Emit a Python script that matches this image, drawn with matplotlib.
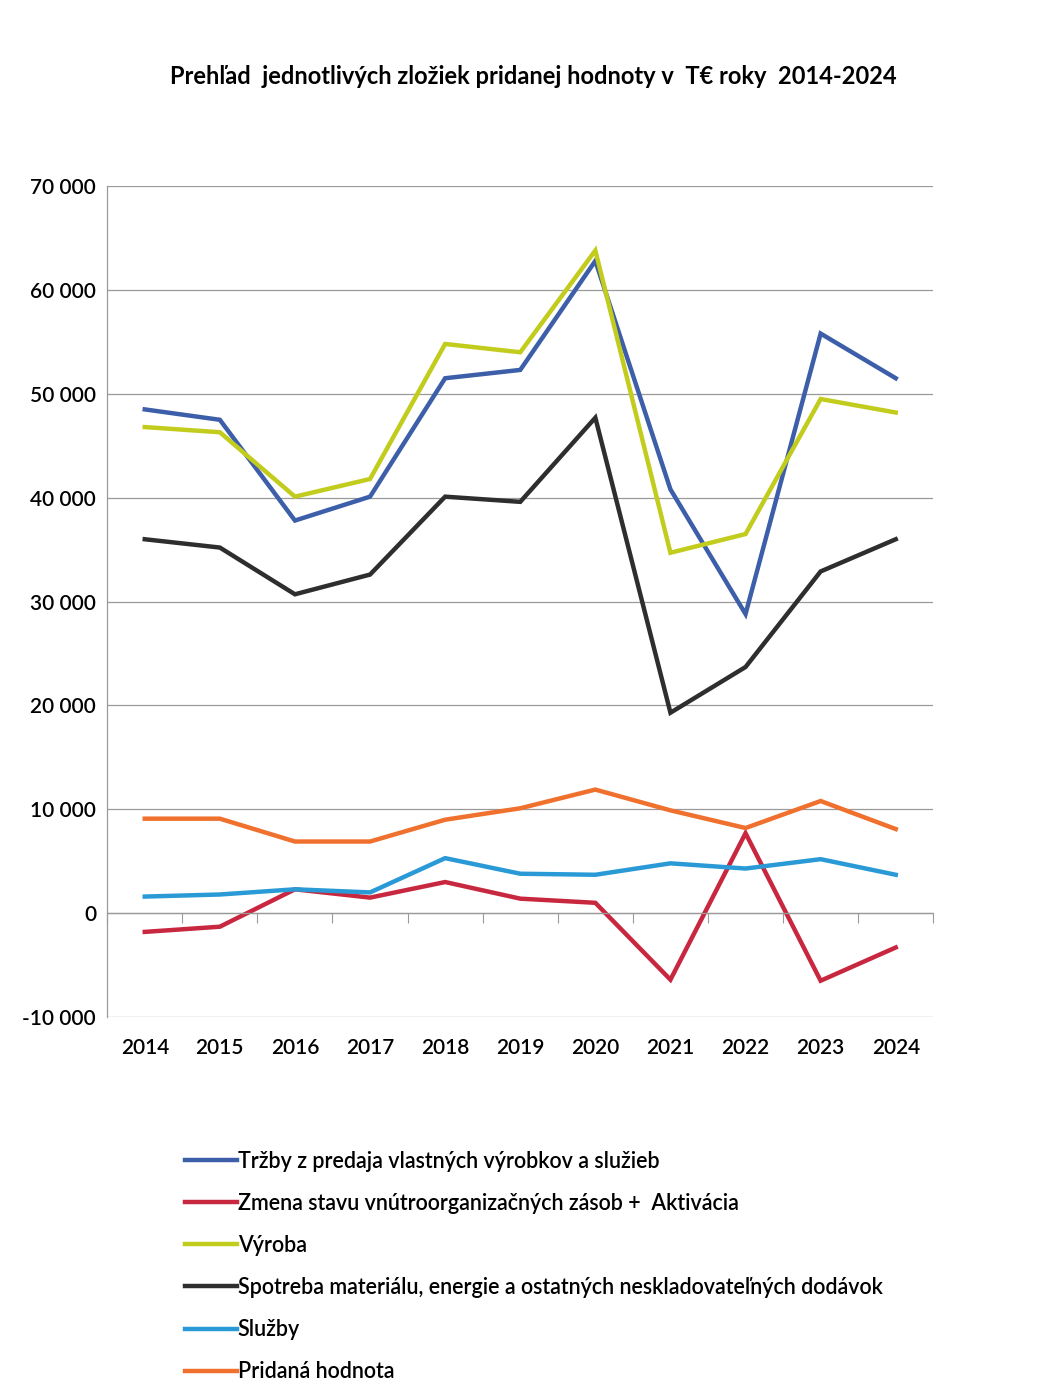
import matplotlib
matplotlib.use('Agg')
import matplotlib.pyplot as plt

years = ['2014', '2015', '2016', '2017', '2018', '2019', '2020', '2021', '2022', '2023', '2024']

trzby    = [48500, 47500, 37800, 40100, 51500, 52300, 62800, 40800, 28800, 55800, 51500]
zmena    = [-1800, -1300, 2300, 1500, 3000, 1400, 1000, -6400, 7700, -6500, -3300]
vyroba   = [46800, 46300, 40100, 41800, 54800, 54000, 63800, 34700, 36500, 49500, 48200]
spotreba = [36000, 35200, 30700, 32600, 40100, 39600, 47700, 19300, 23700, 32900, 36000]
sluzby   = [1600, 1800, 2300, 2000, 5300, 3800, 3700, 4800, 4300, 5200, 3700]
pridana  = [9100, 9100, 6900, 6900, 9000, 10100, 11900, 9900, 8200, 10800, 8100]

labels = ['Tržby z predaja vlastných výrobkov a služieb',
          'Zmena stavu vnútroorganizačných zásob +  Aktivácia',
          'Výroba',
          'Spotreba materiálu, energie a ostatných neskladovateľných dodávok',
          'Služby',
          'Pridaná hodnota']
colors = ['#3d5ea9', '#c8283f', '#c2cc1c', '#2e2e2e', '#2a9ad6', '#f0702e']

plt.rcParams['font.family'] = ['Lato', 'DejaVu Sans']

fig = plt.figure(figsize=(10.51, 13.99), dpi=100)
ax = fig.add_axes([0.102, 0.273, 0.786, 0.594])

x = list(range(len(years)))
series = [trzby, zmena, vyroba, spotreba, sluzby, pridana]
for vals, c, lab in zip(series, colors, labels):
    ax.plot(x, vals, color=c, lw=3.2, label=lab, solid_joinstyle='miter')

ax.set_xlim(-0.5, 10.5)
ax.set_ylim(-10000, 70000)
yt = list(range(-10000, 70001, 10000))
ax.set_yticks(yt)
ax.set_yticklabels(['{:,}'.format(v).replace(',', ' ') for v in yt], fontsize=15,
                   fontweight='semibold')
ax.tick_params(axis='y', length=0, pad=8)
ax.grid(axis='y', color='#9a9a9a', lw=0.9)
ax.set_axisbelow(True)

for s in ['top', 'right']:
    ax.spines[s].set_visible(False)
ax.spines['left'].set_color('#9a9a9a')
ax.spines['left'].set_linewidth(0.9)
ax.spines['bottom'].set_position(('data', 0))
ax.spines['bottom'].set_color('#9a9a9a')
ax.spines['bottom'].set_linewidth(0.9)
ax.set_xticks([i - 0.5 for i in range(len(years) + 1)])
ax.set_xticklabels([])
ax.tick_params(axis='x', length=7, color='#9a9a9a', direction='out')

sec = ax.secondary_xaxis('bottom')
sec.set_xticks(x)
sec.set_xticklabels(years, fontsize=15, fontweight='semibold')
sec.tick_params(length=0, pad=15)
sec.spines['bottom'].set_visible(False)

fig.text(0.507, 1 - 77 / 1399, 'Prehľad  jednotlivých zložiek pridanej hodnoty v  T€ roky  2014-2024',
         ha='center', va='center', fontsize=17, fontweight='bold')

fig.legend(loc='upper left', bbox_to_anchor=(0.176, 0.1775), frameon=False,
           prop={'size': 15.5, 'weight': 'semibold'},
           handlelength=2.4, handletextpad=0.05, labelspacing=0.98,
           borderpad=0, borderaxespad=0)

fig.savefig('out.png', dpi=100)
